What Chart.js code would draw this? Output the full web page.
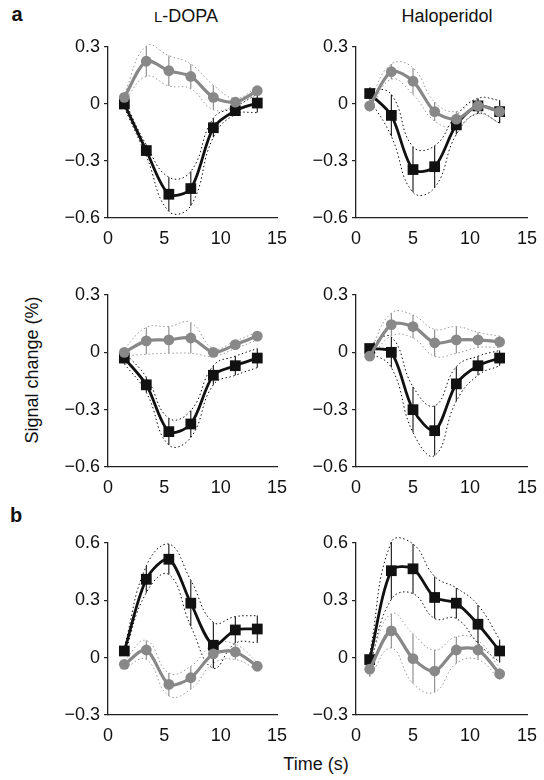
<!DOCTYPE html>
<html lang="en">
<head>
  <meta charset="UTF-8" />
  <title>Signal change</title>
  <script src="https://cdn.jsdelivr.net/npm/chart.js"></script>
  <style>
    body {
      margin: 0;
      background: #fff;
      font-family: 'Liberation Sans', Arial, sans-serif;
      color: #111;
    }
    #page {
      position: relative;
      width: 544px;
      height: 780px;
      overflow: hidden;
    }
    canvas { position: absolute; }
    .lbl {
      position: absolute;
      white-space: nowrap;
      line-height: 1;
      transform: translate(-50%, -50%);
    }
    .tag { font-weight: bold; font-size: 20px; }
    .ttl { font-size: 18px; }
  </style>
</head>
<body>
  <div id="page">
    <div class="lbl tag" style="left:17px; top:14px;">a</div>
    <div class="lbl tag" style="left:16px; top:515px;">b</div>
    <div class="lbl ttl" style="left:186px; top:16px;"><span style="font-size:15px">L</span>-DOPA</div>
    <div class="lbl ttl" style="left:447px; top:16px;">Haloperidol</div>
    <div class="lbl ttl" style="left:32px; top:370px; transform: translate(-50%, -50%) rotate(-90deg);">Signal change (%)</div>
    <div class="lbl ttl" style="left:316px; top:764px;">Time (s)</div>
  </div>

  <script>
    // time points (s)
    const timeL = [1.45, 3.4, 5.4, 7.35, 9.35, 11.3, 13.25];
    const timeH = [1.2, 3.1, 5.0, 6.9, 8.8, 10.7, 12.6];

    // tick labels
    const xTicks = [0, 5, 10, 15];
    const yTicksA = [-0.6, -0.3, 0, 0.3];
    const yTicksB = [-0.3, 0, 0.3, 0.6];

    // a, L-DOPA, top
    const p1Grey = [0.035, 0.225, 0.175, 0.145, 0.035, 0.01, 0.07];
    const p1GreyErr = [0.02, 0.08, 0.08, 0.065, 0.065, 0.02, 0.02];
    const p1Black = [0.0, -0.245, -0.475, -0.445, -0.125, -0.035, 0.005];
    const p1BlackErr = [0.02, 0.03, 0.09, 0.09, 0.05, 0.02, 0.05];

    // a, Haloperidol, top
    const p2Grey = [-0.01, 0.17, 0.12, -0.04, -0.08, -0.01, -0.04];
    const p2GreyErr = [0.03, 0.04, 0.07, 0.05, 0.04, 0.04, 0.06];
    const p2Black = [0.055, -0.06, -0.345, -0.33, -0.11, -0.01, -0.04];
    const p2BlackErr = [0.03, 0.11, 0.12, 0.11, 0.05, 0.04, 0.06];

    // a, L-DOPA, bottom
    const p3Grey = [0.0, 0.06, 0.065, 0.075, 0.0, 0.04, 0.085];
    const p3GreyErr = [0.02, 0.07, 0.07, 0.08, 0.02, 0.02, 0.02];
    const p3Black = [-0.03, -0.17, -0.415, -0.375, -0.12, -0.07, -0.03];
    const p3BlackErr = [0.03, 0.04, 0.07, 0.07, 0.05, 0.05, 0.05];

    // a, Haloperidol, bottom
    const p4Grey = [-0.02, 0.145, 0.135, 0.05, 0.065, 0.065, 0.055];
    const p4GreyErr = [0.02, 0.06, 0.06, 0.07, 0.07, 0.04, 0.03];
    const p4Black = [0.02, 0.0, -0.30, -0.41, -0.165, -0.07, -0.03];
    const p4BlackErr = [0.02, 0.08, 0.12, 0.13, 0.09, 0.05, 0.04];

    // b, L-DOPA
    const p5Grey = [-0.035, 0.04, -0.14, -0.105, 0.02, 0.03, -0.045];
    const p5GreyErr = [0.02, 0.05, 0.06, 0.06, 0.05, 0.04, 0.02];
    const p5Black = [0.035, 0.41, 0.515, 0.285, 0.065, 0.145, 0.15];
    const p5BlackErr = [0.02, 0.07, 0.08, 0.12, 0.12, 0.07, 0.07];

    // b, Haloperidol
    const p6Grey = [-0.06, 0.14, -0.005, -0.07, 0.04, 0.04, -0.085];
    const p6GreyErr = [0.04, 0.09, 0.13, 0.11, 0.07, 0.05, 0.03];
    const p6Black = [-0.01, 0.455, 0.465, 0.315, 0.285, 0.175, 0.035];
    const p6BlackErr = [0.03, 0.15, 0.13, 0.11, 0.08, 0.1, 0.06];

    const GREY = '#888';
    const GREY_DOT = '#999';
    const BLACK = '#111';
    const AXIS = '#222';
    const FONT = "'Liberation Sans', Arial, sans-serif";

    // fixed axis sizes so the plot areas land where the figure has them
    const YW = 60, XH = 30, PT = 10, PR = 14;

    // vertical error bars, drawn under the markers
    const errorBars = {
      id: 'errorBars',
      beforeDatasetsDraw(chart) {
        const { ctx, scales: { x, y } } = chart;
        chart.data.datasets.forEach(ds => {
          if (!ds.err) return;
          ctx.save();
          ctx.strokeStyle = ds.borderColor;
          ctx.lineWidth = 1.1;
          ds.data.forEach((p, i) => {
            const px = x.getPixelForValue(p.x);
            ctx.beginPath();
            ctx.moveTo(px, y.getPixelForValue(p.y - ds.err[i]));
            ctx.lineTo(px, y.getPixelForValue(p.y + ds.err[i]));
            ctx.stroke();
          });
          ctx.restore();
        });
      }
    };

    function pts(times, vals, errs, sign = 0) {
      return times.map((t, i) => ({ x: t, y: vals[i] + (errs ? sign * errs[i] : 0) }));
    }

    function envelope(times, vals, errs, sign, color) {
      return {
        data: pts(times, vals, errs, sign),
        borderColor: color,
        borderWidth: 1,
        borderDash: [1.5, 2.5],
        pointRadius: 0,
        tension: 0.45,
        clip: false
      };
    }

    function fmtY(v) {
      if (Math.abs(v) < 1e-9) return '0';
      return (v < 0 ? '\u2212' : '') + Math.abs(v).toFixed(1);
    }

    function makePanel(box, times, grey, greyErr, black, blackErr, yTicks) {
      const cx = box.left - YW, cy = box.top - PT;
      const w = box.right - box.left + YW + PR;
      const h = box.bottom - box.top + PT + XH;
      const cv = document.createElement('canvas');
      cv.width = w; cv.height = h;
      cv.style.left = cx + 'px'; cv.style.top = cy + 'px';
      cv.style.width = w + 'px'; cv.style.height = h + 'px';
      document.getElementById('page').appendChild(cv);

      new Chart(cv, {
        type: 'line',
        data: {
          datasets: [
            {
              data: pts(times, grey),
              err: greyErr,
              borderColor: GREY,
              backgroundColor: GREY,
              borderWidth: 3.2,
              pointStyle: 'circle',
              pointRadius: 5.4,
              pointBorderWidth: 0,
              tension: 0.3,
              clip: false
            },
            {
              data: pts(times, black),
              err: blackErr,
              borderColor: BLACK,
              backgroundColor: BLACK,
              borderWidth: 2.8,
              pointStyle: 'rect',
              pointRadius: 7.6,
              pointBorderWidth: 0,
              tension: 0.3,
              clip: false
            },
            envelope(times, grey, greyErr, 1, GREY_DOT),
            envelope(times, grey, greyErr, -1, GREY_DOT),
            envelope(times, black, blackErr, 1, BLACK),
            envelope(times, black, blackErr, -1, BLACK)
          ]
        },
        options: {
          responsive: false,
          animation: false,
          layout: { padding: { top: PT, right: PR, left: 0, bottom: 0 } },
          plugins: { legend: { display: false }, tooltip: { enabled: false } },
          scales: {
            x: {
              type: 'linear',
              min: 0, max: 15,
              afterBuildTicks: s => { s.ticks = xTicks.map(v => ({ value: v })); },
              afterFit: s => { s.height = XH; s.paddingLeft = 0; s.paddingRight = 0; },
              grid: { display: false },
              border: { display: true, color: AXIS, width: 1.3 },
              ticks: { color: '#111', font: { family: FONT, size: 18 }, padding: 2, maxRotation: 0 }
            },
            y: {
              min: yTicks[0], max: yTicks[yTicks.length - 1],
              afterBuildTicks: s => { s.ticks = yTicks.map(v => ({ value: v })); },
              afterFit: s => { s.width = YW; s.paddingTop = 0; s.paddingBottom = 0; },
              grid: { display: true, drawOnChartArea: false, drawTicks: true, tickLength: 4, color: AXIS, lineWidth: 1.2 },
              border: { display: true, color: AXIS, width: 1.3 },
              ticks: { color: '#111', font: { family: FONT, size: 18 }, padding: 4, callback: v => fmtY(v) }
            }
          }
        },
        plugins: [errorBars]
      });
    }

    const L = { left: 108, right: 277 };
    const R = { left: 356, right: 527 };
    const row1 = { top: 47, bottom: 218 };
    const row2 = { top: 295, bottom: 467 };
    const row3 = { top: 543, bottom: 715 };

    makePanel({ ...L, ...row1 }, timeL, p1Grey, p1GreyErr, p1Black, p1BlackErr, yTicksA);
    makePanel({ ...R, ...row1 }, timeH, p2Grey, p2GreyErr, p2Black, p2BlackErr, yTicksA);
    makePanel({ ...L, ...row2 }, timeL, p3Grey, p3GreyErr, p3Black, p3BlackErr, yTicksA);
    makePanel({ ...R, ...row2 }, timeH, p4Grey, p4GreyErr, p4Black, p4BlackErr, yTicksA);
    makePanel({ ...L, ...row3 }, timeL, p5Grey, p5GreyErr, p5Black, p5BlackErr, yTicksB);
    makePanel({ ...R, ...row3 }, timeH, p6Grey, p6GreyErr, p6Black, p6BlackErr, yTicksB);
  </script>
</body>
</html>
